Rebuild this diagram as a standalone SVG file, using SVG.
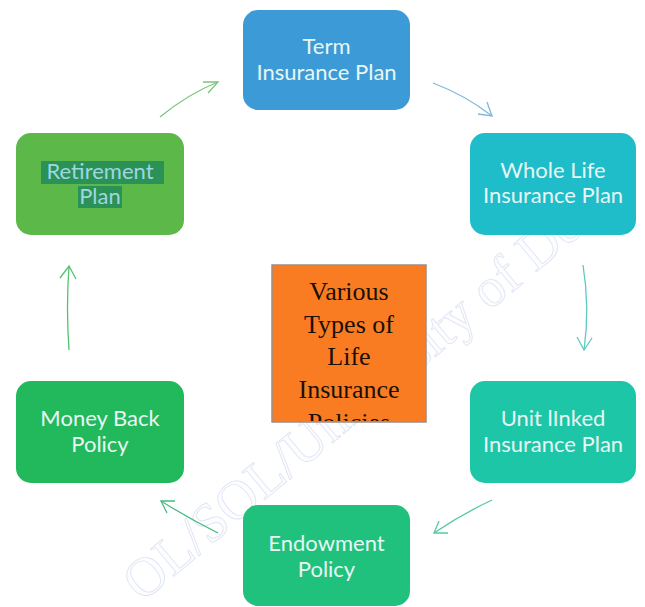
<svg xmlns="http://www.w3.org/2000/svg" width="645" height="607" viewBox="0 0 645 607">
<style>
.box{stroke:none}
.lbl{font-family:Lato,"Open Sans","Liberation Sans",sans-serif;font-size:22px;fill:#e8f6f4;text-anchor:middle}
.ctr{font-family:"Liberation Serif","Times New Roman",serif;font-size:26px;fill:#1a0f05;text-anchor:middle}
.conn{fill:none;stroke-width:1.3}
.wm{font-family:"Liberation Serif",serif;font-size:55px;fill:#fdfdff;stroke:#dfe5f3;stroke-width:0.9}
</style>
<defs>
<clipPath id="cclip"><rect x="273" y="266" width="152" height="155"/></clipPath>
</defs>
<rect width="645" height="607" fill="#ffffff"/>
<text class="wm" transform="translate(142,603) rotate(-40)">OL/SOL/University of De</text>

<g id="connectors">
<path class="conn" stroke="#7cc47c" d="M160,117 Q188,94 218,82"/>
<path class="conn" stroke="#7cc47c" d="M203,82 L218,82 L208,93"/>
<path class="conn" stroke="#7fb8da" d="M433,83 Q465,95 492,116"/>
<path class="conn" stroke="#7fb8da" d="M478,114 L492,116 L487,102"/>
<path class="conn" stroke="#5ec9c2" d="M583,265 Q590,308 584,350"/>
<path class="conn" stroke="#5ec9c2" d="M577,337 L584,350 L592,338"/>
<path class="conn" stroke="#55c9a2" d="M492,500 Q462,514 434,533"/>
<path class="conn" stroke="#55c9a2" d="M439,521 L434,533 L448,533"/>
<path class="conn" stroke="#47bb84" d="M218,533 Q188,518 161,501"/>
<path class="conn" stroke="#47bb84" d="M175,501 L161,501 L167,513"/>
<path class="conn" stroke="#55c272" d="M69,350 Q66,308 69,266"/>
<path class="conn" stroke="#55c272" d="M60,278 L69,266 L76,279"/>
</g>

<g id="term">
<rect class="box" x="243" y="10" width="167" height="100" rx="15" fill="#3c9bd7"/>
<text class="lbl" x="326.5" y="54">Term</text>
<text class="lbl" x="326.5" y="80">Insurance Plan</text>
</g>

<g id="wholelife">
<rect class="box" x="470" y="133" width="166" height="102" rx="15" fill="#1ebdc9"/>
<text class="lbl" x="553" y="178">Whole Life</text>
<text class="lbl" x="553" y="203">Insurance Plan</text>
</g>

<g id="unitlinked">
<rect class="box" x="470" y="381" width="166" height="102" rx="15" fill="#1dc6a6"/>
<text class="lbl" x="553" y="426">Unit lInked</text>
<text class="lbl" x="553" y="452">Insurance Plan</text>
</g>

<g id="endowment">
<rect class="box" x="243" y="505" width="167" height="101" rx="15" fill="#20c17c"/>
<text class="lbl" x="326.5" y="551">Endowment</text>
<text class="lbl" x="326.5" y="577">Policy</text>
</g>

<g id="moneyback">
<rect class="box" x="16" y="381" width="168" height="102" rx="15" fill="#21b95b"/>
<text class="lbl" x="100" y="426">Money Back</text>
<text class="lbl" x="100" y="452">Policy</text>
</g>

<g id="retirement">
<rect class="box" x="16" y="133" width="168" height="102" rx="15" fill="#5db84a"/>
<rect x="41" y="161" width="123" height="23" fill="#2a9157"/>
<rect x="78" y="186" width="44" height="22" fill="#2a9157"/>
<text class="lbl" x="100" y="179" style="fill:#9fd6e2">Retirement</text>
<text class="lbl" x="100" y="204" style="fill:#9fd6e2">Plan</text>
</g>

<g id="center">
<rect x="272" y="265" width="154" height="157" fill="#f97c22" stroke="#9a8f88" stroke-width="1.5"/>
<g clip-path="url(#cclip)">
<text class="ctr" x="349" y="300">Various</text>
<text class="ctr" x="349" y="333">Types of</text>
<text class="ctr" x="349" y="365">Life</text>
<text class="ctr" x="349" y="398">Insurance</text>
<text class="ctr" x="349" y="431">Policies</text>
</g>
</g>
</svg>
